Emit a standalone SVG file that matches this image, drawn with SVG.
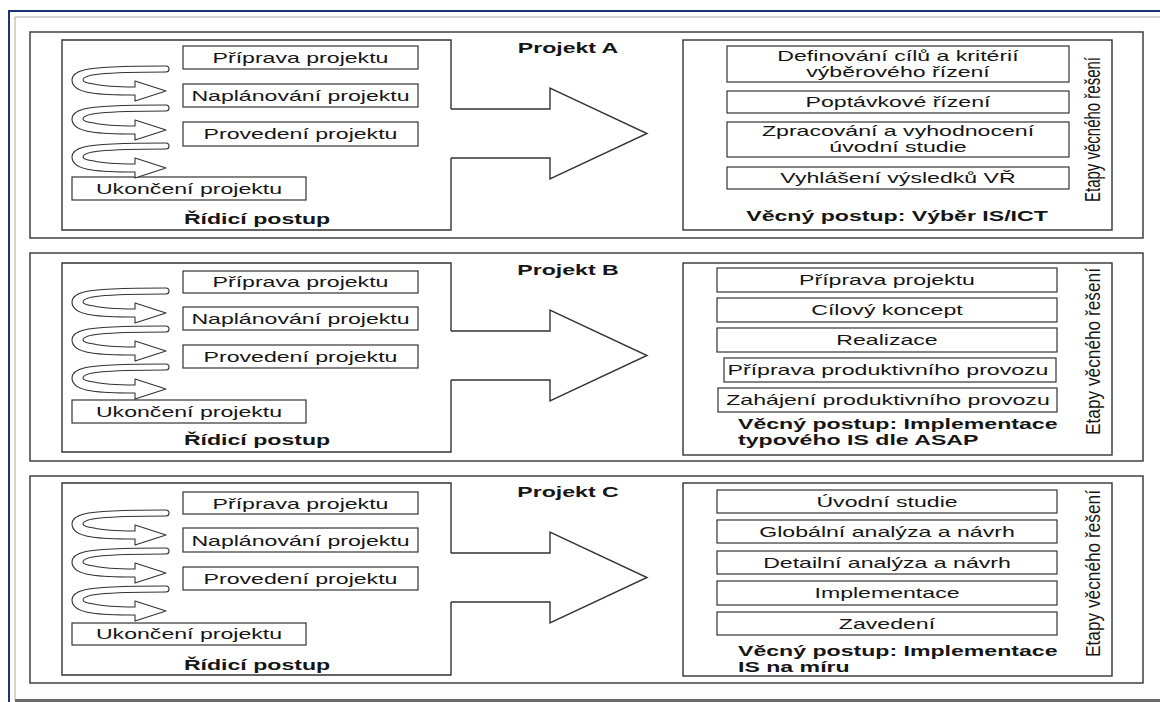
<svg xmlns="http://www.w3.org/2000/svg" xmlns:xlink="http://www.w3.org/1999/xlink" width="1160" height="702" viewBox="0 0 1160 702">
  <style>
    .panel { fill: none; stroke: #404040; stroke-width: 1.5; }
    .area { fill: none; stroke: #333; stroke-width: 1.4; }
    .box { fill: #fff; stroke: #333; stroke-width: 1.2; }
    .curl { fill: #fff; stroke: #333; stroke-width: 1.1; stroke-linejoin: round; }
    .big { fill: #fff; stroke: #333; stroke-width: 1.4; stroke-linejoin: miter; }
    .t { font-family: "Liberation Sans", Arial, sans-serif; font-size: 15px; fill: #151515; }
    .b { font-weight: bold; }
    .m { text-anchor: middle; }
  </style>
  <defs>
    <!-- U-turn arrow: tail at top right, head at bottom right -->
    <path id="curl" class="curl" d="M166,0 C125,0 96,1 84,4 C76,6 72,10 72,14 C72,20 78,25 92,27 C104,29 118,29 135,29 L135,35 L166,25 L135,15 L135,21 C118,21 102,20 94,18 C86,17 83,16 83,14 C83,11 90,9 100,8 C120,6 140,6 166,6 A3,3 0 0 0 166,0 Z"/>
  </defs>

  <rect width="1160" height="702" fill="#fff"/>

  <!-- page frame -->
  <g id="frame">
    <path d="M9,702 V11 H1160" fill="none" stroke="#1b3275" stroke-width="2"/>
    <path d="M15,700 V17 H1160" fill="none" stroke="#a8a8a8" stroke-width="1"/>
    <line x1="15" y1="700.5" x2="1160" y2="700.5" stroke="#6a6a6a" stroke-width="3"/>
  </g>

  <!-- ===== Projekt A ===== -->
  <g id="panel-a">
    <rect class="panel" x="30" y="32" width="1113" height="206"/>
    <text class="t b m" transform="translate(568,53) scale(1.54,1)">Projekt A</text>
    <g id="a-control">
      <path class="area" d="M451,109 V40 H62 V230 H451 V158"/>
      <g id="a-c1"><rect class="box" x="183" y="46" width="235" height="23"/><text class="t m" transform="translate(300.5,62.5) scale(1.54,1)">Příprava projektu</text></g>
      <g id="a-c2"><rect class="box" x="183" y="84" width="235" height="23"/><text class="t m" transform="translate(300.5,100.5) scale(1.54,1)">Naplánování projektu</text></g>
      <g id="a-c3"><rect class="box" x="183" y="122" width="235" height="24"/><text class="t m" transform="translate(300.5,138.5) scale(1.54,1)">Provedení projektu</text></g>
      <g id="a-c4"><rect class="box" x="72" y="177" width="234" height="23"/><text class="t m" transform="translate(189,193.5) scale(1.54,1)">Ukončení projektu</text></g>
      <text class="t b m" transform="translate(257,224) scale(1.54,1)">Řídicí postup</text>
    </g>
    <g id="a-subject">
      <rect class="area" x="683" y="40" width="429" height="190"/>
      <g id="a-s1"><rect class="box" x="727" y="46" width="342" height="36"/>
        <text class="t m" transform="translate(898,61) scale(1.54,1)">Definování cílů a kritérií</text>
        <text class="t m" transform="translate(898,77) scale(1.54,1)">výběrového řízení</text></g>
      <g id="a-s2"><rect class="box" x="727" y="91" width="342" height="22"/><text class="t m" transform="translate(898,106.5) scale(1.54,1)">Poptávkové řízení</text></g>
      <g id="a-s3"><rect class="box" x="727" y="122" width="342" height="35"/>
        <text class="t m" transform="translate(898,136) scale(1.54,1)">Zpracování a vyhodnocení</text>
        <text class="t m" transform="translate(898,152) scale(1.54,1)">úvodní studie</text></g>
      <g id="a-s4"><rect class="box" x="727" y="167" width="342" height="22"/><text class="t m" transform="translate(898,183) scale(1.54,1)">Vyhlášení výsledků VŘ</text></g>
      <text class="t b m" transform="translate(897,221) scale(1.54,1)">Věcný postup: Výběr IS/ICT</text>
      <text class="t" transform="translate(1100,202) scale(1.45,1) rotate(-90)" textLength="145" lengthAdjust="spacingAndGlyphs">Etapy věcného řešení</text>
    </g>
  </g>

  <!-- ===== Projekt B ===== -->
  <g id="panel-b">
    <rect class="panel" x="30" y="253" width="1113" height="208"/>
    <text class="t b m" transform="translate(568,275) scale(1.54,1)">Projekt B</text>
    <g id="b-control">
      <path class="area" d="M451,331 V263 H62 V452 H451 V380"/>
      <g id="b-c1"><rect class="box" x="183" y="271" width="235" height="22"/><text class="t m" transform="translate(300.5,287) scale(1.54,1)">Příprava projektu</text></g>
      <g id="b-c2"><rect class="box" x="183" y="307" width="235" height="23"/><text class="t m" transform="translate(300.5,323.5) scale(1.54,1)">Naplánování projektu</text></g>
      <g id="b-c3"><rect class="box" x="183" y="345" width="235" height="23"/><text class="t m" transform="translate(300.5,361.5) scale(1.54,1)">Provedení projektu</text></g>
      <g id="b-c4"><rect class="box" x="72" y="400" width="234" height="23"/><text class="t m" transform="translate(189,416.5) scale(1.54,1)">Ukončení projektu</text></g>
      <text class="t b m" transform="translate(257,445) scale(1.54,1)">Řídicí postup</text>
    </g>
    <g id="b-subject">
      <rect class="area" x="683" y="263" width="429" height="192"/>
      <g id="b-s1"><rect class="box" x="717" y="268" width="340" height="24"/><text class="t m" transform="translate(887,284.5) scale(1.54,1)">Příprava projektu</text></g>
      <g id="b-s2"><rect class="box" x="717" y="298" width="340" height="24"/><text class="t m" transform="translate(887,314.5) scale(1.54,1)">Cílový koncept</text></g>
      <g id="b-s3"><rect class="box" x="717" y="328" width="340" height="24"/><text class="t m" transform="translate(887,344.5) scale(1.54,1)">Realizace</text></g>
      <g id="b-s4"><rect class="box" x="724" y="358" width="332" height="24"/><text class="t m" transform="translate(888,374.5) scale(1.54,1)">Příprava produktivního provozu</text></g>
      <g id="b-s5"><rect class="box" x="718" y="388" width="339" height="24"/><text class="t m" transform="translate(888,404.5) scale(1.54,1)">Zahájení produktivního provozu</text></g>
      <text class="t b" transform="translate(738,429) scale(1.54,1)">Věcný postup: Implementace</text>
      <text class="t b" transform="translate(738,445) scale(1.54,1)">typového IS dle ASAP</text>
      <text class="t" transform="translate(1100,435) scale(1.3,1) rotate(-90)" textLength="167" lengthAdjust="spacingAndGlyphs">Etapy věcného řešení</text>
    </g>
  </g>

  <!-- ===== Projekt C ===== -->
  <g id="panel-c">
    <rect class="panel" x="30" y="476" width="1113" height="207"/>
    <text class="t b m" transform="translate(568,497) scale(1.54,1)">Projekt C</text>
    <g id="c-control">
      <path class="area" d="M451,553 V483 H62 V675 H451 V602"/>
      <g id="c-c1"><rect class="box" x="183" y="492" width="235" height="22"/><text class="t m" transform="translate(300.5,508.5) scale(1.54,1)">Příprava projektu</text></g>
      <g id="c-c2"><rect class="box" x="183" y="528" width="235" height="24"/><text class="t m" transform="translate(300.5,545.5) scale(1.54,1)">Naplánování projektu</text></g>
      <g id="c-c3"><rect class="box" x="183" y="567" width="235" height="23"/><text class="t m" transform="translate(300.5,583.5) scale(1.54,1)">Provedení projektu</text></g>
      <g id="c-c4"><rect class="box" x="72" y="623" width="234" height="22"/><text class="t m" transform="translate(189,639) scale(1.54,1)">Ukončení projektu</text></g>
      <text class="t b m" transform="translate(257,670) scale(1.54,1)">Řídicí postup</text>
    </g>
    <g id="c-subject">
      <rect class="area" x="683" y="483" width="429" height="193"/>
      <g id="c-s1"><rect class="box" x="717" y="490" width="340" height="23"/><text class="t m" transform="translate(887,507) scale(1.54,1)">Úvodní studie</text></g>
      <g id="c-s2"><rect class="box" x="717" y="520" width="340" height="23"/><text class="t m" transform="translate(887,537) scale(1.54,1)">Globální analýza a návrh</text></g>
      <g id="c-s3"><rect class="box" x="717" y="551" width="340" height="23"/><text class="t m" transform="translate(887,567.5) scale(1.54,1)">Detailní analýza a návrh</text></g>
      <g id="c-s4"><rect class="box" x="717" y="581" width="340" height="24"/><text class="t m" transform="translate(887,597.5) scale(1.54,1)">Implementace</text></g>
      <g id="c-s5"><rect class="box" x="717" y="612" width="340" height="23"/><text class="t m" transform="translate(887,628.5) scale(1.54,1)">Zavedení</text></g>
      <text class="t b" transform="translate(738,656) scale(1.54,1)">Věcný postup: Implementace</text>
      <text class="t b" transform="translate(738,672) scale(1.54,1)">IS na míru</text>
      <text class="t" transform="translate(1100,657) scale(1.3,1) rotate(-90)" textLength="167" lengthAdjust="spacingAndGlyphs">Etapy věcného řešení</text>
    </g>
  </g>

  <!-- connectors: phase loops and the block arrows between the two procedures -->
  <g id="connectors">
    <use xlink:href="#curl" x="0" y="66"/>
    <use xlink:href="#curl" x="0" y="105"/>
    <use xlink:href="#curl" x="0" y="143"/>
    <use xlink:href="#curl" x="0" y="288"/>
    <use xlink:href="#curl" x="0" y="326"/>
    <use xlink:href="#curl" x="0" y="364"/>
    <use xlink:href="#curl" x="0" y="510"/>
    <use xlink:href="#curl" x="0" y="548"/>
    <use xlink:href="#curl" x="0" y="586"/>
    <path class="big" d="M451,109 H550 V88 L647,133.5 L550,179 V158 H451"/>
    <path class="big" d="M451,331 H550 V310 L647,355.5 L550,401 V380 H451"/>
    <path class="big" d="M451,553 H550 V532 L647,577.5 L550,623 V602 H451"/>
  </g>
</svg>
